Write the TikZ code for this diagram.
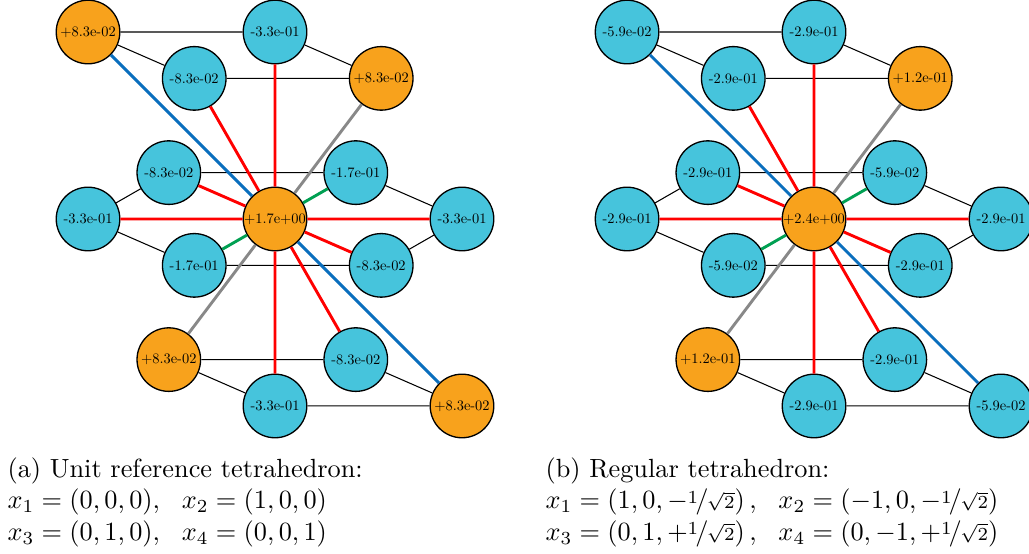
\documentclass[tikz,border=0pt]{standalone}
\usepackage{amsmath}
\usepackage{graphicx}
\usepackage{nicefrac}
\usepackage{xcolor}

\definecolor{posorange}{HTML}{F8A21C}
\definecolor{negcyan}{HTML}{46C4DC}
\definecolor{diagblue}{HTML}{0A6EBD}
\definecolor{diaggreen}{HTML}{00A052}
\definecolor{diaggray}{HTML}{888888}

% coefficient values, set small
\newcommand{\coefval}[1]{\scalebox{0.55}{#1}}

\tikzset{
    coef/.style={circle,draw=black,line width=0.5pt,minimum size=0.85cm,
        inner sep=0pt},
    poscoef/.style={coef,fill=posorange},
    negcoef/.style={coef,fill=negcyan},
    link/.style={draw=black,line width=0.4pt},
    axial/.style={draw=red,line width=1.1pt},
    diagb/.style={draw=diagblue,line width=1.1pt},
    diagg/.style={draw=diaggreen,line width=1.1pt},
    diagk/.style={draw=diaggray,line width=1.1pt}
}

\begin{document}
\begin{tikzpicture}
    \useasboundingbox (-3.677,-4.479) rectangle (10.081,2.928);

    % (a) unit reference tetrahedron
    \node[poscoef] (aC)  at (0,0)          {\coefval{+1.7e+00}};
    \node[poscoef] (aTL) at (-2.5,2.5)     {\coefval{+8.3e-02}};
    \node[negcoef] (aT)  at (0,2.5)        {\coefval{-3.3e-01}};
    \node[negcoef] (aUL) at (-1.08,1.88)   {\coefval{-8.3e-02}};
    \node[poscoef] (aUR) at (1.42,1.88)    {\coefval{+8.3e-02}};
    \node[negcoef] (aML) at (-1.42,0.62)   {\coefval{-8.3e-02}};
    \node[negcoef] (aMR) at (1.08,0.62)    {\coefval{-1.7e-01}};
    \node[negcoef] (aL)  at (-2.5,0)       {\coefval{-3.3e-01}};
    \node[negcoef] (aR)  at (2.5,0)        {\coefval{-3.3e-01}};
    \node[negcoef] (aLL) at (-1.08,-0.62)  {\coefval{-1.7e-01}};
    \node[negcoef] (aLR) at (1.42,-0.62)   {\coefval{-8.3e-02}};
    \node[poscoef] (aDL) at (-1.42,-1.88)  {\coefval{+8.3e-02}};
    \node[negcoef] (aDR) at (1.08,-1.88)   {\coefval{-8.3e-02}};
    \node[negcoef] (aB)  at (0,-2.5)       {\coefval{-3.3e-01}};
    \node[poscoef] (aBR) at (2.5,-2.5)     {\coefval{+8.3e-02}};

    \draw[link] (aTL) -- (aT) (aTL) -- (aUL) (aT) -- (aUR) (aUL) -- (aUR)
        (aML) -- (aMR) (aL) -- (aML) (aL) -- (aLL) (aMR) -- (aR)
        (aR) -- (aLR) (aLL) -- (aLR) (aDL) -- (aDR) (aDL) -- (aB)
        (aDR) -- (aBR) (aB) -- (aBR);
    \draw[axial] (aC) -- (aT) (aC) -- (aUL) (aC) -- (aML) (aC) -- (aL)
        (aC) -- (aR) (aC) -- (aLR) (aC) -- (aDR) (aC) -- (aB);
    \draw[diagb] (aC) -- (aTL) (aC) -- (aBR);
    \draw[diagk] (aC) -- (aUR) (aC) -- (aDL);
    \draw[diagg] (aC) -- (aMR) (aC) -- (aLL);

    \node[anchor=north west,align=left,inner sep=0pt] (acap) at (-3.583,-3.182)
        {(a) Unit reference tetrahedron:\\
         $x_1 = (0,0,0),\ \ x_2 = (1,0,0)$\\
         $x_3 = (0,1,0),\ \ x_4 = (0,0,1)$};

    % (b) regular tetrahedron
    \begin{scope}[xshift=7.207cm]
    \node[poscoef] (bC)  at (0,0)          {\coefval{+2.4e+00}};
    \node[negcoef] (bTL) at (-2.5,2.5)     {\coefval{-5.9e-02}};
    \node[negcoef] (bT)  at (0,2.5)        {\coefval{-2.9e-01}};
    \node[negcoef] (bUL) at (-1.08,1.88)   {\coefval{-2.9e-01}};
    \node[poscoef] (bUR) at (1.42,1.88)    {\coefval{+1.2e-01}};
    \node[negcoef] (bML) at (-1.42,0.62)   {\coefval{-2.9e-01}};
    \node[negcoef] (bMR) at (1.08,0.62)    {\coefval{-5.9e-02}};
    \node[negcoef] (bL)  at (-2.5,0)       {\coefval{-2.9e-01}};
    \node[negcoef] (bR)  at (2.5,0)        {\coefval{-2.9e-01}};
    \node[negcoef] (bLL) at (-1.08,-0.62)  {\coefval{-5.9e-02}};
    \node[negcoef] (bLR) at (1.42,-0.62)   {\coefval{-2.9e-01}};
    \node[poscoef] (bDL) at (-1.42,-1.88)  {\coefval{+1.2e-01}};
    \node[negcoef] (bDR) at (1.08,-1.88)   {\coefval{-2.9e-01}};
    \node[negcoef] (bB)  at (0,-2.5)       {\coefval{-2.9e-01}};
    \node[negcoef] (bBR) at (2.5,-2.5)     {\coefval{-5.9e-02}};

    \draw[link] (bTL) -- (bT) (bTL) -- (bUL) (bT) -- (bUR) (bUL) -- (bUR)
        (bML) -- (bMR) (bL) -- (bML) (bL) -- (bLL) (bMR) -- (bR)
        (bR) -- (bLR) (bLL) -- (bLR) (bDL) -- (bDR) (bDL) -- (bB)
        (bDR) -- (bBR) (bB) -- (bBR);
    \draw[axial] (bC) -- (bT) (bC) -- (bUL) (bC) -- (bML) (bC) -- (bL)
        (bC) -- (bR) (bC) -- (bLR) (bC) -- (bDR) (bC) -- (bB);
    \draw[diagb] (bC) -- (bTL) (bC) -- (bBR);
    \draw[diagk] (bC) -- (bUR) (bC) -- (bDL);
    \draw[diagg] (bC) -- (bMR) (bC) -- (bLL);

    \node[anchor=north west,align=left,inner sep=0pt] (bcap) at (-3.597,-3.182)
        {(b) Regular tetrahedron:\\
         $x_1 = \left(1,0,-\nicefrac{1}{\sqrt{2}}\right),\ \
          x_2 = \left(-1,0,-\nicefrac{1}{\sqrt{2}}\right)$\\
         $x_3 = \left(0,1,+\nicefrac{1}{\sqrt{2}}\right),\ \
          x_4 = \left(0,-1,+\nicefrac{1}{\sqrt{2}}\right)$};
    \end{scope}
\end{tikzpicture}
\end{document}
